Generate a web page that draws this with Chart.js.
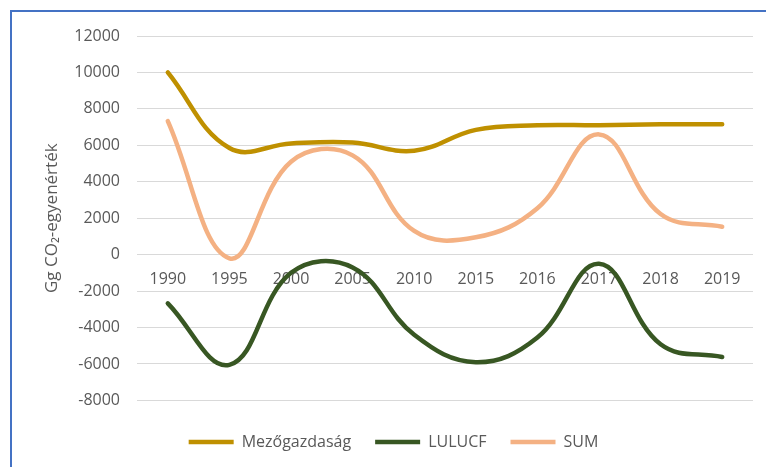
<!DOCTYPE html>
<html>
<head>
<meta charset="utf-8">
<script src="https://cdn.jsdelivr.net/npm/chart.js@4"></script>
<style>
  html, body { margin: 0; padding: 0; background: #fff; overflow: hidden; }
  #frame { position: absolute; left: 10px; top: 10px; width: 820px; height: 520px;
           border-left: 2px solid #4472C4; border-top: 2px solid #4472C4; }
  #chart { position: absolute; left: 0; top: 0; }
</style>
</head>
<body>
<div id="frame"></div>
<canvas id="chart" width="792" height="467"></canvas>
<script>
// adatok
const years = ['1990', '1995', '2000', '2005', '2010', '2015', '2016', '2017', '2018', '2019'];
const mezogazdasag = [10000, 5850, 6100, 6150, 5700, 6850, 7100, 7100, 7150, 7150];
const lulucf = [-2670, -6050, -1000, -700, -4400, -5900, -4550, -500, -4920, -5620];
const sum = [7330, -200, 5100, 5450, 1300, 950, 2550, 6600, 2230, 1530];

const gray = '#595959';
const font = { family: '"Open Sans", sans-serif', size: 16 };

function line(label, data, color, order) {
    return {
        label: label,
        data: data,
        borderColor: color,
        backgroundColor: color,
        borderWidth: 4.5,
        borderCapStyle: 'round',
        pointRadius: 0,
        pointStyle: 'line',
        tension: 0.4,
        fill: false,
        order: order
    };
}

new Chart(document.getElementById('chart'), {
    type: 'line',
    data: {
        labels: years,
        datasets: [
            line('Mezőgazdaság', mezogazdasag, '#BF9000', 3),
            line('LULUCF', lulucf, '#385723', 2),
            line('SUM', sum, '#F4B183', 1)
        ]
    },
    options: {
        responsive: false,
        animation: false,
        layout: { padding: { left: 34, right: 39, top: 36, bottom: 7 } },
        plugins: {
            tooltip: { enabled: false },
            legend: {
                position: 'bottom',
                title: { display: true, text: '', font: { size: 8 }, padding: 0 },
                labels: {
                    usePointStyle: true,
                    pointStyleWidth: 45,
                    padding: 24,
                    color: gray,
                    font: font,
                    sort: (a, b) => a.datasetIndex - b.datasetIndex
                }
            }
        },
        scales: {
            x: {
                type: 'category',
                position: { y: 0 },
                offset: true,
                grid: { display: false, drawTicks: false },
                border: { display: false },
                ticks: { color: gray, font: font, padding: 15, maxRotation: 0 }
            },
            y: {
                min: -8000,
                max: 12000,
                ticks: {
                    stepSize: 2000,
                    color: gray,
                    font: font,
                    padding: 17,
                    callback: v => String(v)
                },
                grid: { color: '#D9D9D9', lineWidth: 1, drawTicks: false },
                border: { display: false },
                title: {
                    display: true,
                    text: 'Gg CO₂-egyenérték',
                    color: gray,
                    font: { family: '"Open Sans", sans-serif', size: 17 },
                    padding: { top: 8, bottom: 0 }
                },
                afterFit: function (scale) { scale.width = 103; }
            }
        }
    }
});
</script>
</body>
</html>
